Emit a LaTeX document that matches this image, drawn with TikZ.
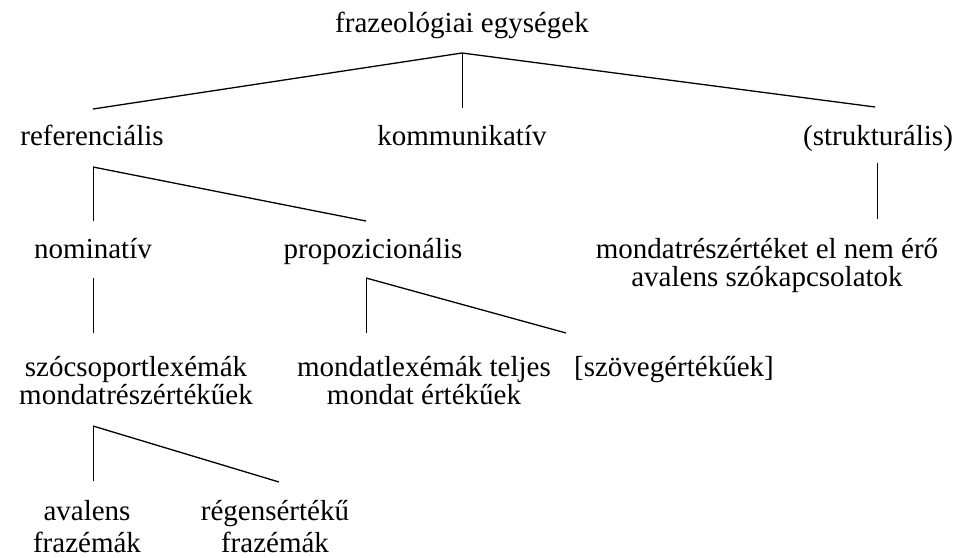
\documentclass[tikz,border=0pt]{standalone}
\usepackage{fontspec}
\setmainfont{Liberation Serif}
\begin{document}
\begin{tikzpicture}[x=1pt,y=-1pt,
  lbl/.style={font=\fontsize{29}{28}\selectfont, inner sep=0pt, anchor=base, align=center},
  lbltall/.style={font=\fontsize{29}{32}\selectfont, inner sep=0pt, anchor=base, align=center},
  diag/.style={line width=1.3pt},
  vert/.style={line width=0.8pt}]
\useasboundingbox (0,0) rectangle (960,557);
% nodes (multi-line nodes are placed by the baseline of their last line)
\node[lbl] (top) at (462,32) {frazeológiai egységek};
\node[lbl] (ref) at (92,145) {referenciális};
\node[lbl] (kom) at (462,145) {kommunikatív};
\node[lbl] (str) at (878,145) {(strukturális)};
\node[lbl] (nom) at (93,258) {nominatív};
\node[lbl] (prop) at (373,258) {propozicionális};
\node[lbl] (mre) at (767,286) {mondatrészértéket el nem érő\\avalens szókapcsolatok};
\node[lbl] (szcs) at (136,404) {szócsoportlexémák\\mondatrészértékűek};
\node[lbl] (mlex) at (424,404) {mondatlexémák teljes\\mondat értékűek};
\node[lbl] (szov) at (674,376) {[szövegértékűek]};
\node[lbltall] (aval) at (87,552) {avalens\\frazémák};
\node[lbltall] (reg) at (275,552) {régensértékű\\frazémák};
% branch points
\coordinate (a0) at (462,53);
\coordinate (eref) at (93,109);
\coordinate (ekom) at (462,108);
\coordinate (estr) at (875,107);
\coordinate (a1) at (93,167);
\coordinate (enom) at (93,221);
\coordinate (eprop) at (366,221);
\coordinate (astr) at (877,163);
\coordinate (emre) at (877,219);
\coordinate (a2) at (366,278);
\coordinate (emlex) at (366,333);
\coordinate (eszov) at (566,333);
\coordinate (anom) at (93,278);
\coordinate (eszcs) at (93,333);
\coordinate (a3) at (93,426);
\coordinate (eaval) at (93,481);
\coordinate (ereg) at (279,482);
% connectors
\draw[diag] (eref) -- (a0) -- (estr);
\draw[vert] (a0) -- (ekom);
\draw[vert] (enom) -- (a1);
\draw[diag] (a1) -- (eprop);
\draw[vert] (astr) -- (emre);
\draw[vert] (emlex) -- (a2);
\draw[diag] (a2) -- (eszov);
\draw[vert] (anom) -- (eszcs);
\draw[vert] (eaval) -- (a3);
\draw[diag] (a3) -- (ereg);
\end{tikzpicture}
\end{document}
